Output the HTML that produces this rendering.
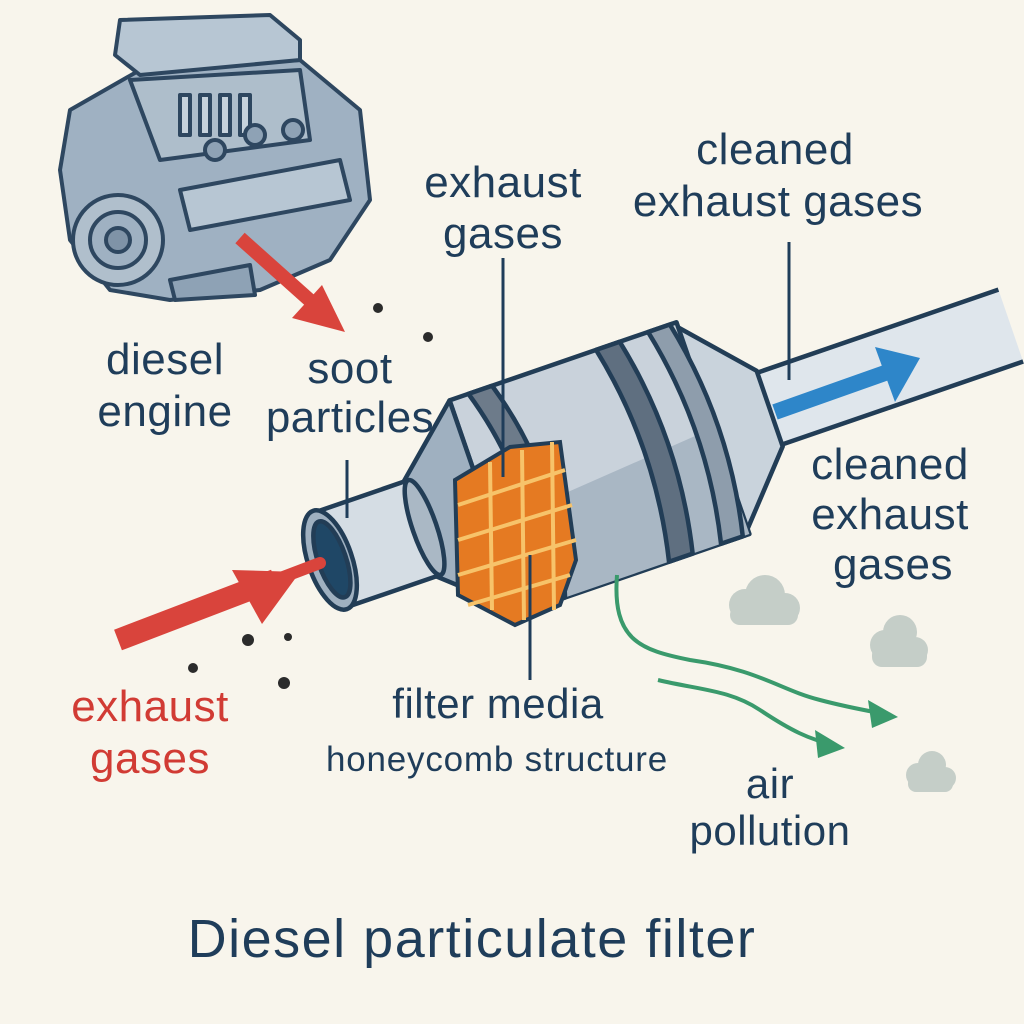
<!DOCTYPE html>
<html><head><meta charset="utf-8"><style>
html,body{margin:0;padding:0;background:#f8f5ec;}
svg{display:block;}
text{font-family:"Liberation Sans","DejaVu Sans",sans-serif;fill:#1f3d5a;text-anchor:middle;}
</style></head><body>
<svg width="1024" height="1024" viewBox="0 0 1024 1024" xmlns="http://www.w3.org/2000/svg">
<rect width="1024" height="1024" fill="#f8f5ec"/>

<g stroke="#2e4760" stroke-width="4" stroke-linejoin="round">
  <path d="M70,110 L140,70 L300,60 L360,110 L370,200 L330,260 L260,290 L170,300 L110,290 L70,240 L60,170 Z" fill="#9fb1c2"/>
  <path d="M120,20 L270,15 L300,40 L300,60 L140,75 L115,55 Z" fill="#b7c6d3"/>
  <path d="M130,80 L300,70 L310,140 L160,160 Z" fill="#aebecb"/>
  <g fill="#c6d2dc">
    <rect x="180" y="95" width="10" height="40"/><rect x="200" y="95" width="10" height="40"/><rect x="220" y="95" width="10" height="40"/><rect x="240" y="95" width="10" height="40"/>
  </g>
  <circle cx="215" cy="150" r="10" fill="#8ea2b5"/><circle cx="255" cy="135" r="10" fill="#8ea2b5"/><circle cx="293" cy="130" r="10" fill="#8ea2b5"/>
  <path d="M180,190 L340,160 L350,200 L190,230 Z" fill="#b7c6d3"/>
  <circle cx="118" cy="240" r="45" fill="#b0bfcc"/>
  <circle cx="118" cy="240" r="28" fill="#9fb1c2"/>
  <circle cx="118" cy="240" r="12" fill="#7f93a7"/>
  <path d="M170,280 L250,265 L255,295 L175,300 Z" fill="#8ea2b5"/>
</g>
<line x1="240" y1="238" x2="315" y2="305" stroke="#d9443c" stroke-width="14"/>
<polygon points="345,332 292,318 322,285" fill="#d9443c"/>

<g fill="#2b2b2b">
<circle cx="378" cy="308" r="5"/><circle cx="428" cy="337" r="5"/><circle cx="248" cy="640" r="6"/><circle cx="288" cy="637" r="4"/><circle cx="193" cy="668" r="5"/><circle cx="284" cy="683" r="6"/>
</g>

<g transform="translate(330,560) rotate(-19)" stroke="#223d56" stroke-width="4.5" stroke-linejoin="round">
  <path d="M450,-38 L720,-38 L720,38 L450,38 Z" fill="#dfe6ec" stroke="none"/>
  <line x1="450" y1="-38" x2="720" y2="-38"/>
  <line x1="460" y1="38" x2="720" y2="38"/>
  <path d="M400,-112 L465,-40 L465,40 L400,112 Z" fill="#c9d3dc"/>
  <path d="M165,-112 L405,-112 L405,112 L165,112 Z" fill="#c9d2db"/>
  <path d="M165,20 L405,0 L405,112 L165,112 Z" fill="#a9b7c4" stroke="none"/>
  <path d="M320,-112 Q345,0 320,112 L345,112 Q370,0 345,-112 Z" fill="#5f6f80"/>
  <path d="M375,-112 Q400,0 375,112 L398,112 Q423,0 398,-112 Z" fill="#8e9dac"/>
  <path d="M185,-112 Q220,0 185,112 L210,112 Q245,0 210,-112 Z" fill="#6d7b8a"/>
  <path d="M95,-50 L165,-112 L165,112 L95,50 Z" fill="#9fb0c0"/>
  <path d="M0,-50 L100,-50 L100,50 L0,50 Z" fill="#d5dde4"/>
  <ellipse cx="100" cy="0" rx="12" ry="50" fill="#aab8c5"/>
  <ellipse cx="0" cy="0" rx="22" ry="52" fill="#9fb0c0"/>
  <ellipse cx="2" cy="0" rx="14" ry="40" fill="#1f4766"/>
</g>
<g stroke="#223d56" stroke-width="4">
  <polygon points="455,480 510,447 560,442 576,560 560,605 515,625 458,595" fill="#e57a22"/>
</g>
<g stroke="#f7c36a" stroke-width="4" fill="none">
  <line x1="458" y1="505" x2="565" y2="470"/><line x1="458" y1="540" x2="572" y2="505"/><line x1="458" y1="575" x2="576" y2="540"/>
  <line x1="490" y1="462" x2="492" y2="610"/><line x1="522" y1="450" x2="524" y2="620"/><line x1="552" y1="442" x2="554" y2="610"/>
  <line x1="468" y1="605" x2="570" y2="575"/>
</g>

<line x1="775" y1="412" x2="885" y2="373" stroke="#2e86c9" stroke-width="16"/>
<polygon points="920,358 875,347 895,402" fill="#2e86c9"/>

<line x1="118" y1="640" x2="275" y2="580" stroke="#d9443c" stroke-width="22"/>
<line x1="270" y1="582" x2="320" y2="563" stroke="#d9443c" stroke-width="12" stroke-linecap="round"/>
<polygon points="300,572 232,570 262,624" fill="#d9443c"/>

<g stroke="#1f3d5a" stroke-width="3">
  <line x1="503" y1="258" x2="503" y2="477"/>
  <line x1="789" y1="242" x2="789" y2="380"/>
  <line x1="347" y1="460" x2="347" y2="518"/>
  <line x1="530" y1="555" x2="530" y2="680"/>
</g>
<g fill="none" stroke="#3a9a6c" stroke-width="4">
  <path d="M617,575 C612,640 640,650 690,660 C760,670 780,690 820,700 C850,708 875,712 890,715"/>
  <path d="M658,680 C700,690 730,690 760,710 C790,730 810,740 835,745"/>
</g>
<polygon points="898,717 868,700 872,728" fill="#3a9a6c"/>
<polygon points="845,748 815,730 818,758" fill="#3a9a6c"/>
<g fill="#c5cec8">
  <circle cx="745" cy="605" r="16"/><circle cx="765" cy="595" r="20"/><circle cx="785" cy="608" r="15"/><rect x="730" y="605" width="68" height="20" rx="10"/>
  <circle cx="885" cy="645" r="15"/><circle cx="900" cy="632" r="17"/><circle cx="915" cy="650" r="13"/><rect x="872" y="645" width="55" height="22" rx="10"/>
  <circle cx="918" cy="775" r="12"/><circle cx="932" cy="765" r="14"/><circle cx="945" cy="778" r="11"/><rect x="908" y="775" width="45" height="17" rx="8"/>
</g>

<g font-size="44" letter-spacing="0.5">
<text x="165" y="374">diesel</text><text x="165" y="426">engine</text>
<text x="350" y="383">soot</text><text x="350" y="432">particles</text>
<text x="503" y="197">exhaust</text><text x="503" y="248">gases</text>
<text x="775" y="164">cleaned</text><text x="778" y="216">exhaust gases</text>
<text x="890" y="479">cleaned</text><text x="890" y="529">exhaust</text><text x="893" y="579">gases</text>
<text x="150" y="721" style="fill:#d13b34">exhaust</text><text x="150" y="773" style="fill:#d13b34">gases</text>
<text x="498" y="718" font-size="42">filter media</text>
<text x="770" y="798" font-size="42">air</text><text x="770" y="845" font-size="42">pollution</text>
</g>
<text x="497" y="771" font-size="35" letter-spacing="0.8">honeycomb structure</text>
<text x="472" y="957" font-size="54" letter-spacing="1.5">Diesel particulate filter</text>
</svg>
</body></html>
